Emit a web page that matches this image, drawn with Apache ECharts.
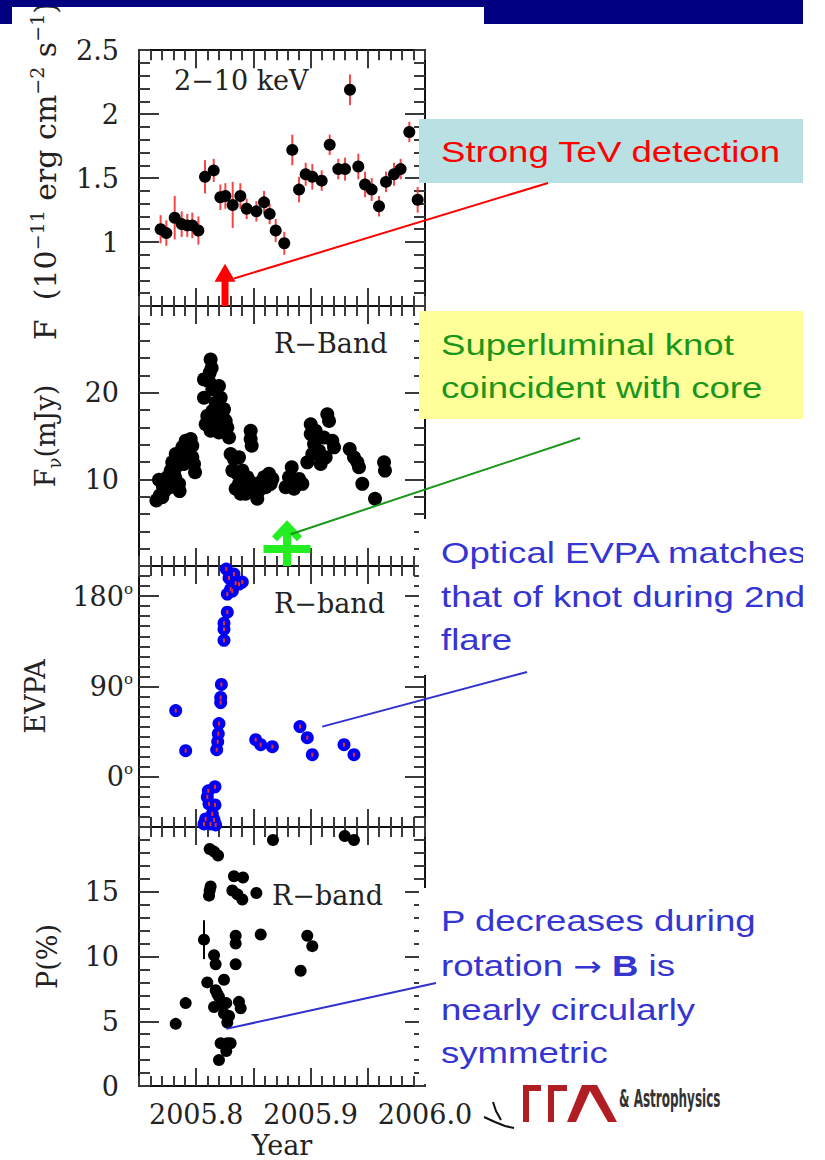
<!DOCTYPE html>
<html><head><meta charset="utf-8">
<script src="https://cdn.jsdelivr.net/npm/echarts@6/dist/echarts.min.js"></script>
<style>html,body{margin:0;padding:0;background:#fff}#c{width:825px;height:1160px}</style>
</head><body><div id="c"></div>
<script>
// ---------------- DATA ----------------
// Panel 1: 2-10 keV X-ray flux (1e-11 erg cm^-2 s^-1)
const years1 = [2005.7689, 2005.7739, 2005.7812, 2005.7873, 2005.7922, 2005.7966, 2005.8019, 2005.8077, 2005.8153, 2005.8211, 2005.8255, 2005.8319, 2005.8386, 2005.8441, 2005.8526, 2005.8593, 2005.8642, 2005.8695, 2005.8770, 2005.8840, 2005.8899, 2005.8957, 2005.9015, 2005.9097, 2005.9167, 2005.9242, 2005.9301, 2005.9344, 2005.9417, 2005.9476, 2005.9534, 2005.9598, 2005.9659, 2005.9729, 2005.9787, 2005.9863, 2005.9936];
const xray = [1.10, 1.07, 1.19, 1.14, 1.13, 1.13, 1.09, 1.51, 1.56, 1.35, 1.36, 1.29, 1.36, 1.26, 1.24, 1.31, 1.22, 1.09, 0.99, 1.72, 1.41, 1.53, 1.51, 1.48, 1.76, 1.57, 1.57, 2.19, 1.59, 1.45, 1.41, 1.28, 1.47, 1.53, 1.57, 1.86, 1.33];
const xrayErr = [0.11, 0.10, 0.17, 0.10, 0.09, 0.10, 0.11, 0.13, 0.09, 0.10, 0.10, 0.18, 0.10, 0.08, 0.08, 0.09, 0.08, 0.09, 0.09, 0.12, 0.10, 0.09, 0.10, 0.08, 0.08, 0.08, 0.09, 0.12, 0.10, 0.10, 0.09, 0.08, 0.08, 0.09, 0.08, 0.08, 0.10];
const tevEpoch = [2005.8252];
const tevArrowTip = [0.83];

// Panel 2: R-band flux density (mJy)
const years2 = [2005.7652, 2005.7681, 2005.7675, 2005.7710, 2005.7727, 2005.7748, 2005.7762, 2005.7777, 2005.7791, 2005.7806, 2005.7821, 2005.7835, 2005.7850, 2005.7855, 2005.7873, 2005.7879, 2005.7893, 2005.7908, 2005.7922, 2005.7937, 2005.7952, 2005.7966, 2005.7981, 2005.7990, 2005.7815, 2005.7768, 2005.7704, 2005.7966,
  2005.8126, 2005.8135, 2005.8068, 2005.8112, 2005.8068, 2005.8141, 2005.8199, 2005.8214, 2005.8243, 2005.8083, 2005.8126, 2005.8170, 2005.8199, 2005.8272, 2005.8287, 2005.8141, 2005.8170, 2005.8097, 2005.8118, 2005.8228, 2005.8258, 2005.8156,
  2005.8476, 2005.8476, 2005.8485,
  2005.8301, 2005.8330, 2005.8374, 2005.8316, 2005.8360, 2005.8403, 2005.8374, 2005.8418, 2005.8447, 2005.8476, 2005.8505, 2005.8534, 2005.8549, 2005.8593, 2005.8636, 2005.8651, 2005.8607, 2005.8345, 2005.8389, 2005.8432, 2005.8666, 2005.8564,
  2005.8782, 2005.8811, 2005.8835, 2005.8869, 2005.8928, 2005.8855, 2005.8899,
  2005.8971, 2005.9001, 2005.9001, 2005.9030, 2005.9073, 2005.9088, 2005.9117, 2005.9146, 2005.9161, 2005.9190, 2005.9205, 2005.9044, 2005.9015, 2005.9132,
  2005.9342, 2005.9379, 2005.9423, 2005.9452, 2005.9409,
  2005.9642, 2005.9650, 2005.9563];
const rflux = [7.57, 8.14, 9.94, 9.10, 8.71, 10.24, 9.67, 11.01, 11.96, 10.63, 12.92, 11.58, 9.48, 8.64, 12.54, 13.69, 11.77, 14.45, 13.30, 12.92, 14.64, 13.88, 11.77, 10.82, 10.24, 9.10, 7.95, 12.54,
  23.82, 22.86, 21.53, 21.33, 19.42, 20.38, 20.76, 19.42, 18.08, 16.36, 15.60, 16.74, 15.41, 15.98, 14.83, 17.89, 18.85, 17.32, 22.29, 17.51, 16.74, 15.98,
  15.60, 14.64, 13.88,
  12.92, 12.35, 12.54, 11.01, 10.63, 11.01, 9.48, 9.10, 10.24, 9.67, 9.10, 7.76, 8.71, 10.24, 10.63, 9.48, 9.10, 8.91, 8.33, 8.33, 10.05, 9.67,
  9.10, 10.24, 11.39, 9.86, 9.48, 8.91, 10.05,
  11.96, 16.36, 15.22, 14.07, 13.30, 11.77, 14.83, 17.51, 16.74, 14.45, 13.69, 15.60, 12.92, 12.54,
  13.49, 12.54, 11.39, 9.48, 11.96,
  11.96, 11.01, 7.76];
const knotEpoch = [2005.8794];
const knotArrowTip = [5.28];

// Panel 3: optical EVPA (deg)
const years3 = [2005.7821, 2005.7908, 2005.8179, 2005.8188, 2005.8193, 2005.8199, 2005.8214, 2005.8214, 2005.8220, 2005.8243, 2005.8243, 2005.8243, 2005.8272, 2005.8272, 2005.8301, 2005.8263, 2005.8287, 2005.8330, 2005.8374, 2005.8403, 2005.8345, 2005.8316,
  2005.8164, 2005.8106, 2005.8112, 2005.8164, 2005.8083, 2005.8156, 2005.8126, 2005.8170, 2005.8068, 2005.8141, 2005.8097,
  2005.8520, 2005.8564, 2005.8666, 2005.8907, 2005.8971, 2005.9015, 2005.9292, 2005.9379];
const evpa = [66, 26, 27, 35, 43, 53, 74, 79, 92, 136, 147, 153, 164, 182, 187, 207, 198, 202, 192, 194, 193, 185,
  -10, -14, -27, -28, -42, -43, -47, -48, -47, -37, -20,
  37, 32, 30, 50, 39, 22, 32, 22];

// Panel 4: optical polarization (%)
const years4 = [2005.7821, 2005.7908, 2005.8068, 2005.8097, 2005.8156, 2005.8170, 2005.8170, 2005.8243, 2005.8156, 2005.8199, 2005.8223, 2005.8263, 2005.8243, 2005.8287, 2005.8272, 2005.8374, 2005.8389, 2005.8214, 2005.8272, 2005.8301, 2005.8263, 2005.8199, 2005.8185,
  2005.8118, 2005.8126, 2005.8112, 2005.8118, 2005.8156, 2005.8191, 2005.8330, 2005.8409, 2005.8316, 2005.8360, 2005.8403, 2005.8526,
  2005.8345, 2005.8345, 2005.8345, 2005.8564, 2005.8671, 2005.8913, 2005.8971, 2005.9015, 2005.9298, 2005.9379];
const pol = [4.8, 6.4, 11.3, 8.0, 10.1, 9.4, 7.4, 8.2, 6.1, 6.9, 6.3, 6.4, 5.6, 5.4, 4.9, 6.5, 6.0, 3.3, 3.3, 3.3, 2.7, 2.0, 7.1,
  15.1, 15.4, 14.7, 18.3, 18.1, 17.8, 16.2, 16.1, 15.1, 14.8, 14.4, 14.9,
  11.6, 11.0, 9.4, 11.7, 19.0, 8.9, 11.6, 10.8, 19.3, 19.0];
const polErr = [0.3, 0.3, 1.5, 0.3, 0.3, 0.3, 0.3, 0.3, 0.3, 0.3, 0.3, 0.3, 0.3, 0.3, 0.3, 0.3, 0.3, 0.3, 0.3, 0.3, 0.3, 0.3, 0.3,
  0.3, 0.3, 0.3, 0.3, 0.3, 0.3, 0.3, 0.3, 0.3, 0.3, 0.3, 0.3,
  0.3, 0.3, 0.3, 0.3, 0.3, 0.3, 0.3, 0.3, 0.3, 0.3];

// Tick values / labels
const xMajorTicks = [2005.8, 2005.85, 2005.9, 2005.95];
const xTickLabels = [2005.8, 2005.9, 2006.0];
const yLabels1 = [1, 1.5, 2, 2.5];
const yLabels2 = [10, 20];
const yLabels3 = [0, 90, 180];
const yLabels4 = [0, 5, 10, 15];

// Annotation anchors (data units) for the leader lines
const leaderAnchors = [[2005.833, 0.715], [2005.8826, 3.67], [2005.9102, 50], [2005.8263, 4.41]];

// ---------------- LAYOUT / STYLE ----------------
const SERIF = '"DejaVu Serif", serif';
const SANS = '"Liberation Sans", Arial, sans-serif';
const TXT = '#222';
const XMIN = 2005.75, XMAX = 2006.0;
const panels = [
  {top: 45, height: 261, min: 0.5, max: 2.5, minor: 0.1, majors: [1, 1.5, 2], labels: yLabels1, fmt: v => String(v), margin: 20,
   name: '{a|F  (10}{s|−11}{a| erg cm}{s|−2}{a| s}{s|−1}{a|)}', nameGap: 76, big: true},
  {top: 306, height: 260, min: 0, max: 30, minor: 2, majors: [10, 20], labels: yLabels2, fmt: v => String(v), margin: 20,
   name: '{a|F}{u|ν}{a|(mJy)}', nameGap: 76},
  {top: 566, height: 261, min: -50, max: 210, minor: 10, majors: [0, 90, 180], labels: yLabels3, fmt: v => v + '{d|o}', margin: 6,
   name: '{a|EVPA}', nameGap: 86},
  {top: 827, height: 261, min: 0, max: 20, minor: 1, majors: [5, 10, 15], labels: yLabels4, fmt: v => String(v), margin: 20,
   name: '{a|P(%)}', nameGap: 74}
];

const tickStyle = {color: '#3a3a3a', width: 2};
const frameStyle = {color: '#111', width: 2};
const grids = [], xAxes = [], yAxes = [];
panels.forEach((p, i) => {
  grids.push({left: 139, width: 286, top: p.top, height: p.height});
  const xb = {gridIndex: i, type: 'value', min: XMIN, max: XMAX, splitLine: {show: false}, axisLabel: {show: false}, offset: 0};
  ['bottom', 'top'].forEach(pos => {
    xAxes.push(Object.assign({}, xb, {position: pos, interval: 0.01,
      axisLine: {show: true, onZero: false, lineStyle: frameStyle},
      axisTick: {show: true, inside: true, length: 10, lineStyle: tickStyle}}));
    const maj = Object.assign({}, xb, {position: pos, interval: 0.05,
      axisLine: {show: false, onZero: false},
      axisTick: {show: true, inside: true, length: 18, customValues: xMajorTicks, lineStyle: tickStyle}});
    if (pos === 'bottom' && i === 3) {
      maj.axisLabel = {show: true, customValues: xTickLabels, formatter: v => Number(v).toFixed(1),
        fontSize: 27, fontFamily: SERIF, color: TXT, margin: 15, showMinLabel: true, showMaxLabel: true};
      maj.name = 'Year'; maj.nameLocation = 'middle'; maj.nameGap = 46;
      maj.nameTextStyle = {fontSize: 27, fontFamily: SERIF, color: TXT};
    }
    xAxes.push(maj);
  });
  const yb = {gridIndex: i, type: 'value', min: p.min, max: p.max, splitLine: {show: false}, axisLabel: {show: false}, offset: 0};
  ['left', 'right'].forEach(pos => {
    yAxes.push(Object.assign({}, yb, {position: pos, interval: p.minor,
      axisLine: {show: true, onZero: false, lineStyle: frameStyle},
      axisTick: {show: true, inside: true, length: 11, lineStyle: tickStyle}}));
    const maj = Object.assign({}, yb, {position: pos, interval: p.minor,
      axisLine: {show: false, onZero: false},
      axisTick: {show: true, inside: true, length: 20, customValues: p.majors, lineStyle: tickStyle}});
    if (pos === 'left') {
      const fa = p.big ? 30 : 27, fs = p.big ? 19 : 17;
      maj.axisLabel = {show: true, customValues: p.labels, formatter: p.fmt, fontSize: 27, fontFamily: SERIF, color: TXT,
        margin: p.margin, showMinLabel: true, showMaxLabel: true,
        rich: {d: {fontSize: 15, fontFamily: SERIF, color: TXT, verticalAlign: 'top', lineHeight: 30}}};
      maj.name = p.name; maj.nameLocation = 'middle'; maj.nameGap = p.nameGap; maj.nameRotate = 90;
      maj.nameTextStyle = {padding: p.big ? [0, 0, 0, 14] : 0, rich: {
        a: {fontSize: fa, fontFamily: SERIF, color: TXT, lineHeight: 36},
        s: {fontSize: fs, fontFamily: SERIF, color: TXT, lineHeight: 36, verticalAlign: 'top'},
        u: {fontSize: 18, fontFamily: SERIF, color: TXT, lineHeight: 34, verticalAlign: 'bottom'}
      }};
    }
    yAxes.push(maj);
  });
});

const zip = (xs, ys) => xs.map((x, i) => [x, ys[i]]);
const zip3 = (xs, ys, es) => xs.map((x, i) => [x, ys[i], es[i]]);

function errBar(color, width) {
  return function (params, api) {
    const x = api.value(0), y = api.value(1), e = api.value(2);
    const a = api.coord([x, y - e]), b = api.coord([x, y + e]);
    return {type: 'line', shape: {x1: a[0], y1: a[1], x2: b[0], y2: b[1]}, style: {stroke: color, lineWidth: width}};
  };
}

const series = [
  // panel 1
  {type: 'custom', xAxisIndex: 0, yAxisIndex: 0, data: zip3(years1, xray, xrayErr), renderItem: errBar('rgba(245,50,50,0.9)', 2), z: 3, silent: true},
  {type: 'scatter', xAxisIndex: 0, yAxisIndex: 0, data: zip(years1, xray), symbolSize: 12, itemStyle: {color: '#000', opacity: 1}, z: 4},
  {type: 'custom', xAxisIndex: 0, yAxisIndex: 0, data: zip(tevEpoch, tevArrowTip), z: 5, silent: true,
   renderItem: function (params, api) {
     const tip = api.coord([api.value(0), api.value(1)]);
     const base = api.coord([api.value(0), 0.5]);
     return {type: 'group', children: [
       {type: 'polygon', shape: {points: [[tip[0], tip[1]], [tip[0] - 10.5, tip[1] + 18], [tip[0] + 10.5, tip[1] + 18]]}, style: {fill: '#ff0000'}},
       {type: 'rect', shape: {x: tip[0] - 3.5, y: tip[1] + 16, width: 7, height: base[1] - tip[1] - 16}, style: {fill: '#ff0000'}}
     ]};
   }},
  // panel 2
  {type: 'scatter', xAxisIndex: 4, yAxisIndex: 4, data: zip(years2, rflux), symbolSize: 14, itemStyle: {color: '#000', opacity: 1}, z: 4},
  {type: 'custom', xAxisIndex: 4, yAxisIndex: 4, data: zip(knotEpoch, knotArrowTip), z: 5, silent: true,
   renderItem: function (params, api) {
     const tip = api.coord([api.value(0), api.value(1)]);
     const base = api.coord([api.value(0), 0]);
     const c = '#22ee22', x = tip[0], y = tip[1];
     return {type: 'group', children: [
       {type: 'polygon', shape: {points: [[x, y], [x - 15, y + 16], [x - 10, y + 21], [x, y + 11], [x + 10, y + 21], [x + 15, y + 16]]}, style: {fill: c}},
       {type: 'rect', shape: {x: x - 4, y: y + 8, width: 8, height: base[1] - y - 8}, style: {fill: c}},
       {type: 'rect', shape: {x: x - 23.5, y: base[1] - 21, width: 47, height: 8}, style: {fill: c}}
     ]};
   }},
  // panel 3
  {type: 'scatter', xAxisIndex: 8, yAxisIndex: 8, data: zip(years3, evpa), symbolSize: 13, itemStyle: {color: '#0000f5', opacity: 1}, z: 4},
  {type: 'scatter', xAxisIndex: 8, yAxisIndex: 8, data: zip(years3, evpa), symbol: 'rect', symbolSize: [2, 4], itemStyle: {color: '#e03030', opacity: 1}, z: 5, silent: true},
  // panel 4
  {type: 'custom', xAxisIndex: 12, yAxisIndex: 12, data: zip3(years4, pol, polErr), renderItem: errBar('#000', 2), z: 3, silent: true},
  {type: 'scatter', xAxisIndex: 12, yAxisIndex: 12, data: zip(years4, pol), symbolSize: 12, itemStyle: {color: '#000', opacity: 1}, z: 4}
];

const chart = echarts.init(document.getElementById('c'), null, {renderer: 'svg'});
chart.setOption({
  backgroundColor: '#fff',
  animation: false,
  grid: grids, xAxis: xAxes, yAxis: yAxes, series: series
});

// ---------------- ANNOTATIONS ----------------
const Z = 100;
function slideText(x, y, text, color) {
  return {type: 'text', x: x, y: y, scaleX: 1.22, z: Z + 2,
    style: {text: text, fontSize: 30, fontFamily: SANS, fill: color, align: 'left', verticalAlign: 'middle'}};
}
function panelLabel(x, y, text) {
  return {type: 'text', x: x, y: y, z: Z, style: {text: text, fontSize: 27, fontFamily: SERIF, fill: TXT, align: 'left', verticalAlign: 'middle'}};
}
const leaderEnds = [[548, 183], [580, 438], [527, 672], [436, 983]];
const leaderColors = ['#ff0000', '#1a961a', '#3030d0', '#3030d0'];
const leaders = leaderAnchors.map((a, i) => {
  const p = chart.convertToPixel({xAxisIndex: i * 4, yAxisIndex: i * 4}, a);
  return {type: 'line', z: Z + 1, shape: {x1: p[0], y1: p[1], x2: leaderEnds[i][0], y2: leaderEnds[i][1]}, style: {stroke: leaderColors[i], lineWidth: 2}};
});
const blue = '#3535d2';
const graphics = [
  // slide title bar
  {type: 'rect', z: Z, shape: {x: 0, y: 0, width: 803, height: 7}, style: {fill: '#000080'}},
  {type: 'rect', z: Z, shape: {x: 484, y: 0, width: 319, height: 24}, style: {fill: '#000080'}},
  {type: 'rect', z: Z, shape: {x: 0, y: 0, width: 12, height: 24}, style: {fill: '#000080'}},
  // panel labels
  panelLabel(174, 80, '2−10 keV'),
  panelLabel(274, 343, 'R−Band'),
  panelLabel(274, 603, 'R−band'),
  panelLabel(272, 895, 'R−band'),
  // callouts
  {type: 'rect', z: Z + 1, shape: {x: 419, y: 119, width: 384, height: 64}, style: {fill: '#b9e0e3'}},
  slideText(441, 152, 'Strong TeV detection', '#ff0000'),
  {type: 'rect', z: Z + 1, shape: {x: 419, y: 311, width: 384, height: 108}, style: {fill: '#ffff99'}},
  slideText(441, 345, 'Superluminal knot', '#1a961a'),
  slideText(441, 388, 'coincident with core', '#1a961a'),
  {type: 'rect', z: Z + 1, shape: {x: 419, y: 519, width: 384, height: 156}, style: {fill: '#ffffff'}},
  slideText(441, 553, 'Optical EVPA matches', blue),
  slideText(441, 597, 'that of knot during 2nd', blue),
  slideText(441, 640, 'flare', blue),
  {type: 'rect', z: Z + 1, shape: {x: 419, y: 888, width: 384, height: 196}, style: {fill: '#ffffff'}},
  slideText(441, 921, 'P decreases during', blue),
  {type: 'text', x: 441, y: 966, scaleX: 1.22, z: Z + 2,
   style: {text: '{t|rotation }{a|→}{t| }{b|B}{t| is}', align: 'left', verticalAlign: 'middle',
     rich: {t: {fontSize: 30, fontFamily: SANS, fill: blue}, a: {fontSize: 28, fontFamily: '"DejaVu Sans", sans-serif', fill: blue},
            b: {fontSize: 30, fontFamily: SANS, fontWeight: 'bold', fill: blue}}}},
  slideText(441, 1010, 'nearly circularly', blue),
  slideText(441, 1053, 'symmetric', blue),
  // right-side crop
  {type: 'rect', z: Z + 5, shape: {x: 803, y: 0, width: 22, height: 1160}, style: {fill: '#ffffff'}},
  // logo fragment
  {type: 'polyline', z: Z, shape: {points: [[493, 1102], [496, 1111], [501, 1120]]}, style: {stroke: '#111', lineWidth: 2, fill: null}},
  {type: 'polyline', z: Z, shape: {points: [[484, 1117], [495, 1122], [505, 1126], [514, 1128]]}, style: {stroke: '#111', lineWidth: 2, fill: null}},
  {type: 'polygon', z: Z, shape: {points: [[523, 1085], [541, 1085], [541, 1091], [529, 1091], [529, 1122], [523, 1122]]}, style: {fill: '#b01e24'}},
  {type: 'polygon', z: Z, shape: {points: [[548, 1085], [567, 1085], [567, 1091], [554, 1091], [554, 1122], [548, 1122]]}, style: {fill: '#b01e24'}},
  {type: 'polygon', z: Z, shape: {points: [[567, 1122], [582, 1085], [597, 1085], [617, 1122], [608, 1122], [590, 1091], [576, 1122]]}, style: {fill: '#b01e24'}},
  {type: 'text', x: 619, y: 1098, scaleX: 0.5, z: Z, style: {text: '& Astrophysics', fontSize: 24, fontWeight: 'bold', fontFamily: '"DejaVu Sans", sans-serif', fill: '#333', align: 'left', verticalAlign: 'middle'}}
].concat(leaders);

chart.setOption({graphic: {elements: graphics}});
</script></body></html>
